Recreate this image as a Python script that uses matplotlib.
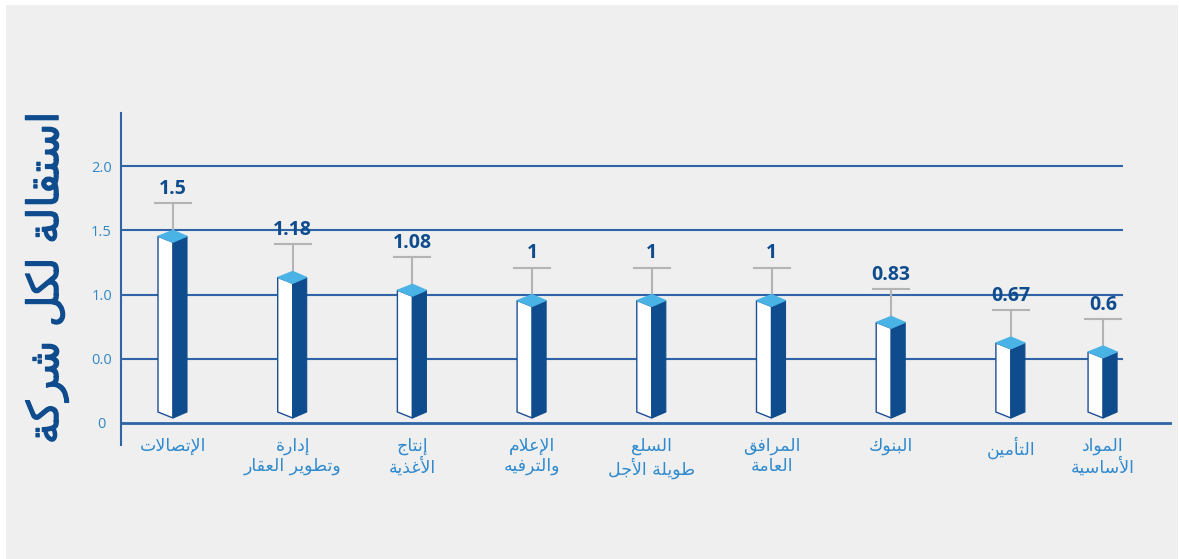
import matplotlib
matplotlib.use("Agg")
import matplotlib.pyplot as plt
from matplotlib.patches import Polygon
import matplotlib.patheffects as pe
import numpy as np

# ---------------- data ----------------
categories = ["الإتصالات", "إدارة\nوتطوير العقار", "إنتاج\nالأغذية", "الإعلام\nوالترفيه",
              "السلع\nطويلة الأجل", "المرافق\nالعامة", "البنوك", "التأمين", "المواد\nالأساسية"]
values = [1.5, 1.18, 1.08, 1, 1, 1, 0.83, 0.67, 0.6]
value_labels = ["1.5", "1.18", "1.08", "1", "1", "1", "0.83", "0.67", "0.6"]
y_ticks = [0, 0.5, 1.0, 1.5, 2.0]
y_tick_labels = ["0", "0.0", "1.0", "1.5", "2.0"]
y_title = "استقالة لكل شركة"

# ---------------- minimal Arabic shaping ----------------
_FORMS = {  # letter: (base presentation code, dual-joining?)
    'ء': (0xFE80, None), 'آ': (0xFE81, False), 'أ': (0xFE83, False), 'ؤ': (0xFE85, False),
    'إ': (0xFE87, False), 'ئ': (0xFE89, True), 'ا': (0xFE8D, False), 'ب': (0xFE8F, True),
    'ة': (0xFE93, False), 'ت': (0xFE95, True), 'ث': (0xFE99, True), 'ج': (0xFE9D, True),
    'ح': (0xFEA1, True), 'خ': (0xFEA5, True), 'د': (0xFEA9, False), 'ذ': (0xFEAB, False),
    'ر': (0xFEAD, False), 'ز': (0xFEAF, False), 'س': (0xFEB1, True), 'ش': (0xFEB5, True),
    'ص': (0xFEB9, True), 'ض': (0xFEBD, True), 'ط': (0xFEC1, True), 'ظ': (0xFEC5, True),
    'ع': (0xFEC9, True), 'غ': (0xFECD, True), 'ف': (0xFED1, True), 'ق': (0xFED5, True),
    'ك': (0xFED9, True), 'ل': (0xFEDD, True), 'م': (0xFEE1, True), 'ن': (0xFEE5, True),
    'ه': (0xFEE9, True), 'و': (0xFEED, False), 'ى': (0xFEEF, False), 'ي': (0xFEF1, True),
}
_LAM_ALEF = {'آ': 0xFEF5, 'أ': 0xFEF7, 'إ': 0xFEF9, 'ا': 0xFEFB}


def _shape_line(s):
    toks = []
    i = 0
    while i < len(s):
        c = s[i]
        if c == 'ل' and i + 1 < len(s) and s[i + 1] in _LAM_ALEF:
            toks.append(('LA', s[i + 1]))
            i += 2
        else:
            toks.append(('C', c))
            i += 1

    def joins_next(t):
        if t[0] == 'LA':
            return False
        f = _FORMS.get(t[1])
        return bool(f and f[1])

    def is_arabic(t):
        return t[0] == 'LA' or (t[1] in _FORMS and _FORMS[t[1]][1] is not None)

    out = []
    for k, t in enumerate(toks):
        prev = toks[k - 1] if k > 0 else None
        nxt = toks[k + 1] if k + 1 < len(toks) else None
        con_prev = prev is not None and joins_next(prev)
        if t[0] == 'LA':
            out.append(chr(_LAM_ALEF[t[1]] + (1 if con_prev else 0)))
            continue
        c = t[1]
        if c not in _FORMS:
            out.append(c)
            continue
        base, dual = _FORMS[c]
        if dual is None:
            out.append(chr(base))
            continue
        con_next = dual and nxt is not None and is_arabic(nxt)
        if con_prev and con_next:
            out.append(chr(base + 3))
        elif con_prev:
            out.append(chr(base + 1))
        elif con_next:
            out.append(chr(base + 2))
        else:
            out.append(chr(base))
    return ''.join(reversed(out))


def ar(s):
    return '\n'.join(_shape_line(line) for line in s.split('\n'))


# ---------------- style ----------------
BG = "#efefef"
GRID = "#2f64a6"
TICK_C = "#3287c6"
CAT_C = "#2f8ace"
DARK = "#0f4c8e"
SIDE = "#0f4c8e"
TOP = "#4ab3e6"
EDGE = "#1d4f95"
GRAY = "#b4b4b4"

W, H = 1179, 559
fig = plt.figure(figsize=(W / 100, H / 100), dpi=100)
fig.patch.set_facecolor("white")
fig.add_artist(plt.Rectangle((6 / W, 0), (1178 - 6) / W, (559 - 5) / H,
                             transform=fig.transFigure, facecolor=BG, edgecolor="none", zorder=-10))

ax = fig.add_axes([121 / W, (H - 445) / H, (1172 - 121) / W, (445 - 113) / H])
ax.set_facecolor("none")
px_per_unit_y = 128.5
ax.set_ylim(-(445 - 423) / px_per_unit_y, (423 - 113) / px_per_unit_y)
px_per_unit_x = 119.7
ax.set_xlim((121 - 173) / px_per_unit_x, (1172 - 173) / px_per_unit_x)

xpos = np.arange(len(categories), dtype=float)
xpos[-1] = 7.77  # last column sits closer in the reference layout
grid_end = (1123 - 173) / px_per_unit_x

for s in ["top", "right", "bottom"]:
    ax.spines[s].set_visible(False)
ax.spines["left"].set_color(GRID)
ax.spines["left"].set_linewidth(1.5)

ax.hlines(y_ticks[1:], ax.get_xlim()[0], grid_end, colors=GRID, linewidth=1.5, zorder=1)
ax.axhline(0, color=GRID, linewidth=2, zorder=1)

ax.set_yticks(y_ticks)
ax.set_yticklabels(y_tick_labels, color=TICK_C, fontsize=10.5, family="Open Sans", ha="center")
ax.tick_params(axis="y", length=0, pad=14)
ax.set_xticks([])

# ---------------- 3D-looking bars ----------------
wl = 15 / px_per_unit_x
wr = 14 / px_per_unit_x
d = 6 / px_per_unit_y
base = 5 / px_per_unit_y
stem = 27 / px_per_unit_y
cap = 18 / px_per_unit_x

for xc, v, lab, cat in zip(xpos, values, value_labels, categories):
    front = Polygon([(xc - wl, v - d), (xc, v - 2 * d), (xc, base), (xc - wl, base + d)],
                    closed=True, facecolor="white", edgecolor=EDGE, linewidth=1.0, zorder=3)
    side = Polygon([(xc, v - 2 * d), (xc + wr, v - d), (xc + wr, base + d), (xc, base)],
                   closed=True, facecolor=SIDE, edgecolor=SIDE, linewidth=0.8, zorder=3)
    top = Polygon([(xc, v), (xc + wr, v - d), (xc, v - 2 * d), (xc - wl, v - d)],
                  closed=True, facecolor=TOP, edgecolor=TOP, linewidth=0.8, zorder=4)
    for p in (front, side, top):
        ax.add_patch(p)
    ax.plot([xc, xc], [v, v + stem], color=GRAY, linewidth=1.5, zorder=2)
    ax.plot([xc - cap, xc + cap], [v + stem, v + stem], color=GRAY, linewidth=1.5, zorder=2)
    ax.annotate(lab, (xc, v + stem), xytext=(0, 3), textcoords="offset points",
                ha="center", va="bottom", fontsize=14, fontweight="bold",
                color=DARK, family="Open Sans")
    ax.text(xc, -14 / px_per_unit_y, ar(cat), ha="center", va="top", multialignment="center",
            fontsize=12.5, color=CAT_C, family="DejaVu Sans", linespacing=1.15)

fig.text(47 / W, 1 - 278 / H, ar(y_title), rotation=90, ha="center", va="center",
         fontsize=31, color=DARK, family="DejaVu Sans",
         path_effects=[pe.withStroke(linewidth=0.9, foreground=DARK)])

fig.savefig("out.png", dpi=100, facecolor=fig.get_facecolor())
